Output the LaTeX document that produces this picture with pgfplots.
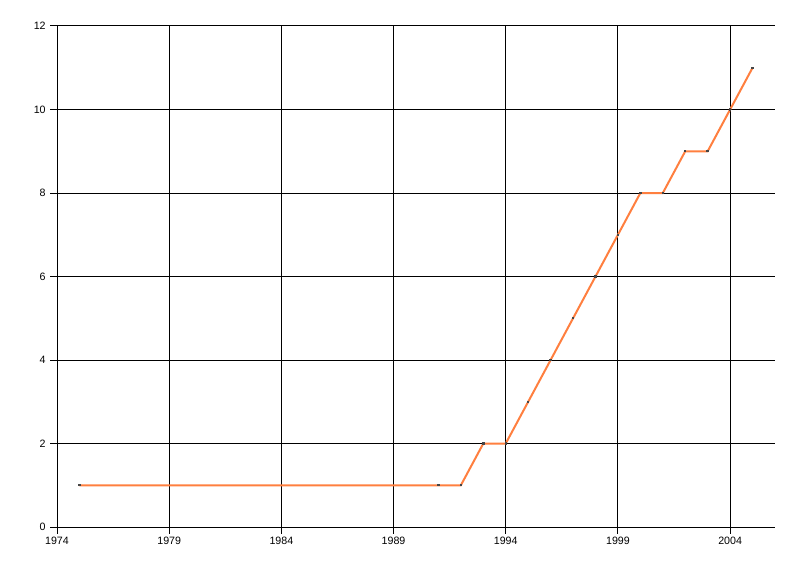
\documentclass[border=0pt]{standalone}
\usepackage{fontspec}
\setmainfont{Liberation Sans}
\usepackage{pgfplots}
\pgfplotsset{compat=1.18}
\definecolor{lineorange}{RGB}{255,127,63}
\definecolor{markgray}{RGB}{70,70,70}

\begin{document}
\begin{tikzpicture}
\useasboundingbox (0,0) rectangle (600pt,432pt);
\begin{axis}[
    at={(42.75pt,36.75pt)}, anchor=south west,
    scale only axis,
    width=538.5pt, height=375.75pt,
    xmin=1974, xmax=2006,
    ymin=0, ymax=12,
    xtick={1974,1979,...,2004},
    ytick={0,2,...,12},
    axis x line=bottom, axis y line=left,
    axis line style={-, black, line width=0.75pt},
    grid=major,
    major grid style={black, line width=0.75pt},
    tick style={black, line width=0.75pt},
    tick align=outside,
    major tick length=5pt,
    x tick label style={font=\fontsize{8}{9}\selectfont, yshift=1pt},
    y tick label style={font=\fontsize{8}{9}\selectfont},
    /pgf/number format/1000 sep={},
    /pgf/number format/assume math mode=true,
    clip=false,
]
\addplot[color=lineorange, line width=1.5pt,
    mark=square*, mark size=0.55pt,
    mark options={fill=markgray, draw=markgray, line width=0pt}]
coordinates {
    (1975,1) (1991,1) (1992,1) (1993,2) (1994,2) (1995,3) (1996,4)
    (1997,5) (1998,6) (1999,7) (2000,8) (2001,8) (2002,9) (2003,9)
    (2004,10) (2005,11)
};
\end{axis}
\end{tikzpicture}
\end{document}
